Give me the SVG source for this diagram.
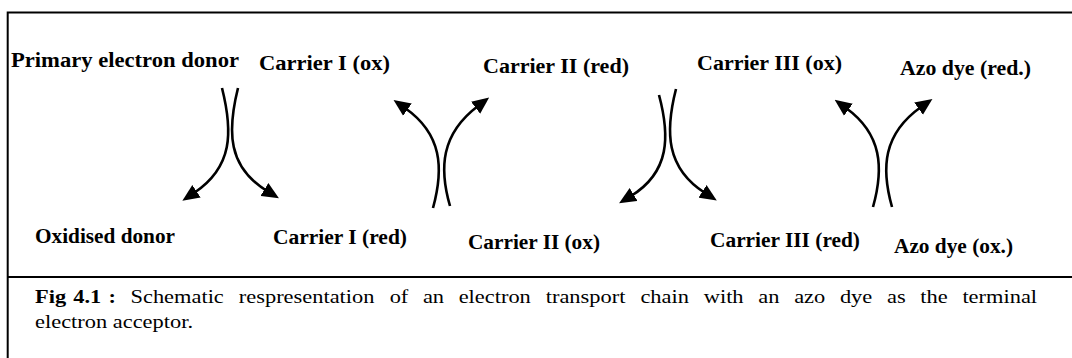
<svg xmlns="http://www.w3.org/2000/svg" width="1072" height="358" viewBox="0 0 1072 358">
<style>
.lbl{font-family:"Liberation Serif","Times New Roman",serif;font-weight:bold;font-size:20px;fill:#000}
.cap{font-family:"Liberation Serif","Times New Roman",serif;font-size:19px;fill:#000}
.frame{stroke:#000;stroke-width:2;fill:none}
.arc{stroke:#000;stroke-width:2.6;fill:none;marker-end:url(#ah)}
</style>
<defs>
<marker id="ah" viewBox="0 0 17 16" refX="3" refY="8" markerWidth="17" markerHeight="16" markerUnits="userSpaceOnUse" orient="auto">
<path d="M0,0.5 L17,8 L0,15.5 z" fill="#000"/>
</marker>
</defs>
<rect width="1072" height="358" fill="#fff"/>
<g id="frame">
<path class="frame" d="M7.7,358 V12.5 H1072"/>
<path class="frame" d="M7.7,277 H1072"/>
</g>
<g id="connectors">
<path class="arc" d="M222,88 C233,132 233,167 194,193"/>
<path class="arc" d="M238,88 C227,132 228,167 267,191"/>
<path class="arc" d="M433,208 C444,168 442,134 405,108"/>
<path class="arc" d="M450,206 C439,168 441,134 478,106"/>
<path class="arc" d="M659,95 C670,136 670,172 631,196"/>
<path class="arc" d="M676,89 C665,132 666,168 705,193"/>
<path class="arc" d="M873,207 C884,168 882,134 846,108"/>
<path class="arc" d="M892,207 C881,168 883,134 921,107"/>
</g>
<g id="n-primary-donor"><text class="lbl" x="11" y="67" textLength="228" lengthAdjust="spacingAndGlyphs">Primary electron donor</text></g>
<g id="n-carrier1-ox"><text class="lbl" x="259" y="70" textLength="131" lengthAdjust="spacingAndGlyphs">Carrier I (ox)</text></g>
<g id="n-carrier2-red"><text class="lbl" x="483" y="73" textLength="146" lengthAdjust="spacingAndGlyphs">Carrier II (red)</text></g>
<g id="n-carrier3-ox"><text class="lbl" x="697" y="70" textLength="145" lengthAdjust="spacingAndGlyphs">Carrier III (ox)</text></g>
<g id="n-azo-red"><text class="lbl" x="900" y="75" textLength="131" lengthAdjust="spacingAndGlyphs">Azo dye (red.)</text></g>
<g id="n-oxidised-donor"><text class="lbl" x="35" y="243" textLength="140" lengthAdjust="spacingAndGlyphs">Oxidised donor</text></g>
<g id="n-carrier1-red"><text class="lbl" x="273" y="244" textLength="134" lengthAdjust="spacingAndGlyphs">Carrier I (red)</text></g>
<g id="n-carrier2-ox"><text class="lbl" x="468" y="249" textLength="132" lengthAdjust="spacingAndGlyphs">Carrier II (ox)</text></g>
<g id="n-carrier3-red"><text class="lbl" x="710" y="247" textLength="150" lengthAdjust="spacingAndGlyphs">Carrier III (red)</text></g>
<g id="n-azo-ox"><text class="lbl" x="894" y="253" textLength="119" lengthAdjust="spacingAndGlyphs">Azo dye (ox.)</text></g>
<g id="caption" transform="scale(1.18,1)">
<text class="cap" y="303"><tspan font-weight="bold" x="29.7">Fig</tspan> <tspan font-weight="bold" x="62.1">4.1</tspan> <tspan font-weight="bold" x="91.9">:</tspan> <tspan x="110.6">Schematic</tspan> <tspan x="202.4">respresentation</tspan> <tspan x="330.2">of</tspan> <tspan x="358.4">an</tspan> <tspan x="388.7">electron</tspan> <tspan x="462.5">transport</tspan> <tspan x="542.7">chain</tspan> <tspan x="596.4">with</tspan> <tspan x="642.6">an</tspan> <tspan x="673">azo</tspan> <tspan x="711.8">dye</tspan> <tspan x="751.7">as</tspan> <tspan x="779.9">the</tspan> <tspan x="815.6">terminal</tspan></text>
<text class="cap" x="29.7" y="328">electron acceptor.</text>
</g>
</svg>
